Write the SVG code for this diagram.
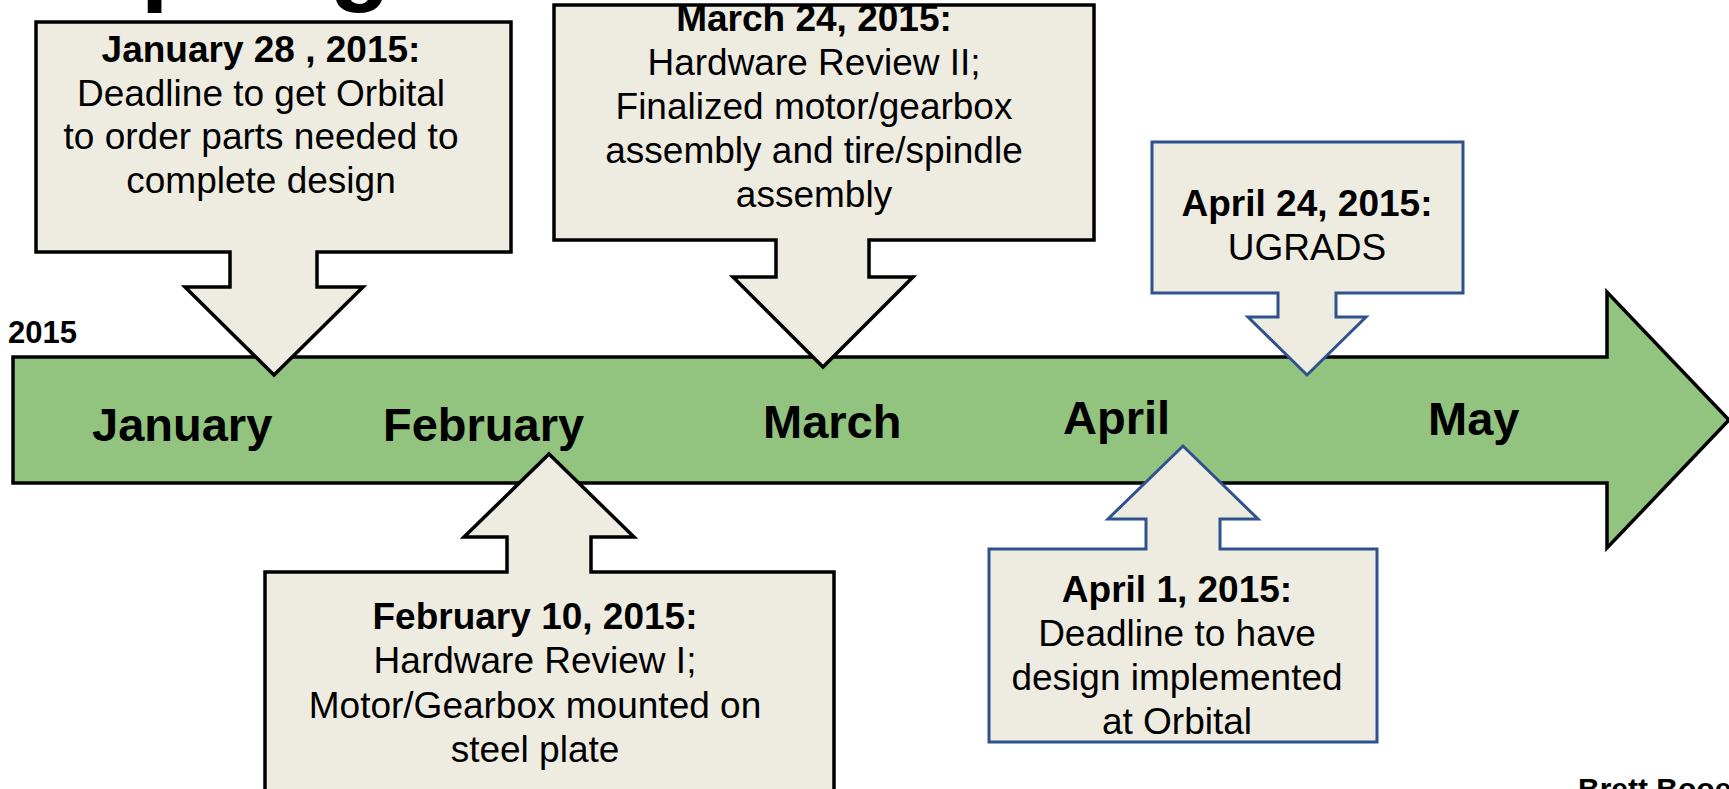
<svg xmlns="http://www.w3.org/2000/svg" width="1729" height="789" viewBox="0 0 1729 789">
  <style>
    text { font-family: "Liberation Sans", Arial, sans-serif; fill: #000; }
    .b { font-weight: bold; }
    .c { text-anchor: middle; font-size: 37px; }
    .month { font-size: 47px; font-weight: bold; }
    .callout { fill: #eeece1; stroke: #000; stroke-width: 3.5; stroke-linejoin: miter; }
    .callout-blue { fill: #eeece1; stroke: #2f528f; stroke-width: 3; stroke-linejoin: miter; }
    .timeline { fill: #92c47f; stroke: #000; stroke-width: 3.5; stroke-linejoin: miter; }
  </style>
  <rect width="1729" height="789" fill="#ffffff"/>

  <text id="title" x="74" y="-8" class="b" font-size="100">Spring</text>
  <text id="year" x="8" y="343" class="b" font-size="31">2015</text>

  <g id="timeline">
    <path class="timeline" d="M13,357 H1607 V292 L1729,420 L1607,548 V483 H13 Z"/>
    <text class="month" x="92" y="441">January</text>
    <text class="month" x="383" y="441">February</text>
    <text class="month" x="763" y="438">March</text>
    <text class="month" x="1063" y="434">April</text>
    <text class="month" x="1428" y="435">May</text>
  </g>

  <g id="jan28">
    <path class="callout" d="M36,22 H511 V252 H317 V287 H363 L274,375 L185,287 H230 V252 H36 Z"/>
    <text class="c b" x="261" y="62">January 28 , 2015:</text>
    <text class="c" x="261" y="106">Deadline to get Orbital</text>
    <text class="c" x="261" y="149">to order parts needed to</text>
    <text class="c" x="261" y="193">complete design</text>
  </g>

  <g id="mar24">
    <path class="callout" d="M554,5 H1094 V240 H869 V277 H913 L823,367 L733,277 H776 V240 H554 Z"/>
    <text class="c b" x="814" y="31">March 24, 2015:</text>
    <text class="c" x="814" y="75">Hardware Review II;</text>
    <text class="c" x="814" y="119">Finalized motor/gearbox</text>
    <text class="c" x="814" y="163">assembly and tire/spindle</text>
    <text class="c" x="814" y="207">assembly</text>
  </g>

  <g id="apr24">
    <path class="callout-blue" d="M1152,142 H1463 V293 H1336 V317 H1366 L1307,375 L1248,317 H1278 V293 H1152 Z"/>
    <text class="c b" x="1307" y="216">April 24, 2015:</text>
    <text class="c" x="1307" y="260">UGRADS</text>
  </g>

  <g id="feb10">
    <path class="callout" d="M265,800 V572 H507 V537 H464 L549,454 L634,537 H591 V572 H834 V800 Z"/>
    <text class="c b" x="535" y="629">February 10, 2015:</text>
    <text class="c" x="535" y="673">Hardware Review I;</text>
    <text class="c" x="535" y="718">Motor/Gearbox mounted on</text>
    <text class="c" x="535" y="762">steel plate</text>
  </g>

  <g id="apr1">
    <path class="callout-blue" d="M989,742 V549 H1146 V519 H1108 L1183,446 L1258,519 H1220 V549 H1377 V742 Z"/>
    <text class="c b" x="1177" y="602">April 1, 2015:</text>
    <text class="c" x="1177" y="646">Deadline to have</text>
    <text class="c" x="1177" y="690">design implemented</text>
    <text class="c" x="1177" y="734">at Orbital</text>
  </g>

  <g id="connectors"></g>

  <text id="author" x="1578" y="799" class="b" font-size="30">Brett Booe</text>
</svg>
